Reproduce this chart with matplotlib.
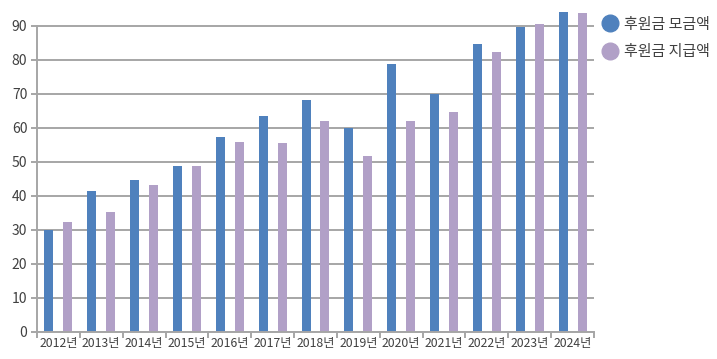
import numpy as np
import matplotlib
matplotlib.use('Agg')
import matplotlib.pyplot as plt
from matplotlib.lines import Line2D

plt.rcParams['font.family'] = ['Noto Sans CJK KR', 'DejaVu Sans']

# data
years = ['2012년', '2013년', '2014년', '2015년', '2016년', '2017년', '2018년',
         '2019년', '2020년', '2021년', '2022년', '2023년', '2024년']
raised = [29.8, 41.3, 44.6, 48.7, 57.2, 63.4, 68.1, 59.9, 78.7, 69.8, 84.6, 89.6, 94.0]
paid = [32.3, 35.2, 43.1, 48.7, 55.7, 55.4, 61.9, 51.6, 61.9, 64.6, 82.2, 90.4, 93.7]
series_names = ['후원금 모금액', '후원금 지급액']
yticks = list(range(0, 100, 10))

BLUE = '#4f81bd'
PURPLE = '#b1a0c7'
GRID = '#a6a6a6'
TEXT = '#404040'

fig = plt.figure(figsize=(7.17, 3.59), dpi=100)
ax = fig.add_axes((37 / 717, 27.5 / 359, 557 / 717, 321.5 / 359))

x = np.arange(len(years))
w = 0.21
ax.bar(x - 0.22, raised, w, color=BLUE, zorder=3)
ax.bar(x + 0.22, paid, w, color=PURPLE, zorder=3)

ax.set_xlim(-0.5, len(years) - 0.5)
ax.set_ylim(0, 94.6)
ax.set_yticks(yticks)
ax.yaxis.grid(True, color=GRID, linewidth=1.4, zorder=0)

# category boundaries as x ticks, labels centred in between
ax.set_xticks(np.arange(-0.5, len(years), 1.0))
ax.set_xticklabels([])
ax.set_xticks(x, minor=True)
ax.set_xticklabels(years, minor=True, fontsize=8.8, color=TEXT)
ax.tick_params(axis='x', which='major', length=4, width=1.4, color=GRID)
ax.tick_params(axis='x', which='minor', length=0, pad=4)
ax.tick_params(axis='y', length=4, width=1.4, color=GRID, labelsize=10, labelcolor=TEXT, pad=3)

for s in ['top', 'right']:
    ax.spines[s].set_visible(False)
ax.spines['left'].set_bounds(0, 90)
ax.spines['left'].set_color(GRID)
ax.spines['left'].set_linewidth(1.4)
ax.spines['bottom'].set_color(GRID)
ax.spines['bottom'].set_linewidth(1.4)
ax.spines['bottom'].set_zorder(4)

handles = [Line2D([], [], marker='o', linestyle='', markersize=12, color=c)
           for c in (BLUE, PURPLE)]
leg = fig.legend(handles, series_names, loc='upper left', bbox_to_anchor=(592 / 717, 1 - 7 / 359),
                 frameon=False, fontsize=10.8, handletextpad=0.45, labelspacing=0.9,
                 handlelength=1.0, borderaxespad=0.3)
for t in leg.get_texts():
    t.set_color(TEXT)

fig.savefig('out.png', dpi=100)
